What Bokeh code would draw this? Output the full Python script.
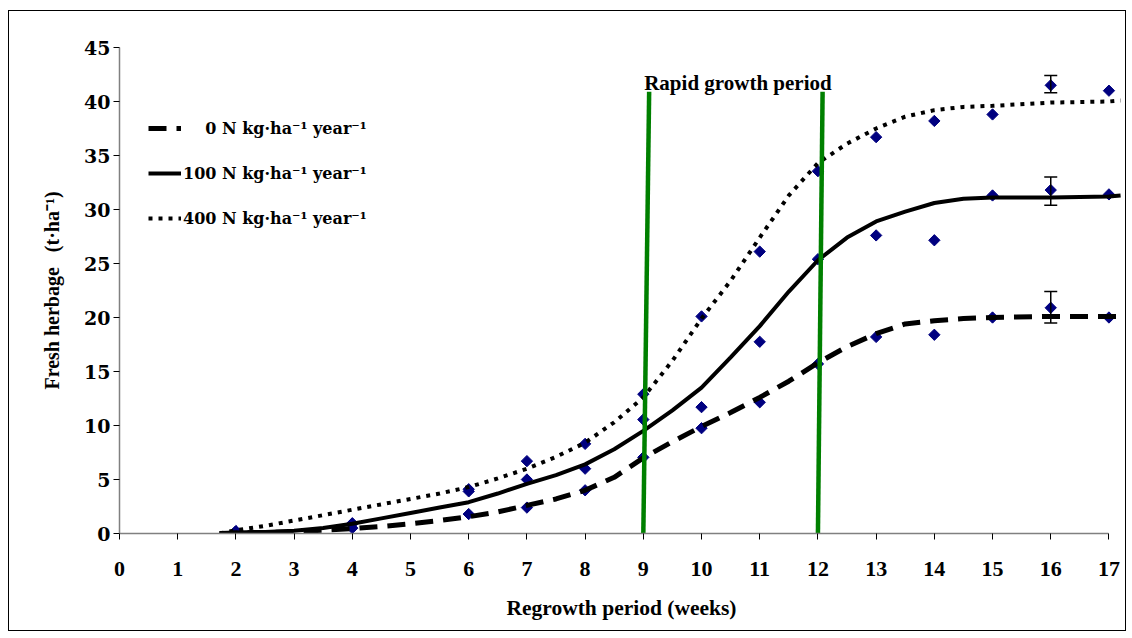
from bokeh.plotting import figure
from bokeh.models import (ColumnDataSource, FixedTicker, Legend, LegendItem, Label,
                          Whisker, TeeHead)
from bokeh.embed import file_html
from bokeh.resources import INLINE
import numpy as np

# ---------------- data ----------------
weeks = [2, 4, 6, 7, 8, 9, 10, 11, 12, 13, 14, 15, 16, 17]
obs_0n = [0.2, 0.5, 1.8, 2.4, 4.0, 7.05, 9.75, 12.15, 15.7, 18.2, 18.4, 20.0, 20.9, 20.0]
obs_100n = [0.2, 0.9, 3.9, 5.0, 6.0, 10.55, 11.7, 17.75, 25.4, 27.6, 27.15, 31.3, 31.8, 31.4]
obs_400n = [0.2, 0.95, 4.1, 6.7, 8.3, 12.9, 20.1, 26.1, 33.55, 36.7, 38.2, 38.8, 41.5, 41.0]

fit_x = [1.72, 2, 2.5, 3, 3.5, 4, 4.5, 5, 5.5, 6, 6.5, 7, 7.5, 8, 8.5, 9, 9.5, 10,
         10.5, 11, 11.5, 12, 12.5, 13, 13.5, 14, 14.5, 15, 16, 17, 17.2]
fit_0n = [0.0, 0.05, 0.1, 0.15, 0.3, 0.45, 0.65, 0.9, 1.2, 1.55, 2.0, 2.6, 3.2, 4.0, 5.2,
          7.0, 8.5, 9.9, 11.2, 12.6, 14.1, 15.8, 17.3, 18.5, 19.4, 19.7, 19.9, 20.0, 20.1,
          20.1, 20.1]
fit_100n = [0.0, 0.1, 0.15, 0.25, 0.5, 0.9, 1.4, 1.9, 2.4, 2.9, 3.7, 4.6, 5.4, 6.4, 7.8,
            9.5, 11.4, 13.5, 16.3, 19.2, 22.4, 25.3, 27.4, 28.9, 29.8, 30.6, 31.0, 31.1,
            31.1, 31.2, 31.3]
fit_400n = [0.0, 0.3, 0.7, 1.2, 1.7, 2.2, 2.7, 3.2, 3.7, 4.3, 5.1, 6.0, 7.1, 8.4, 10.3,
            12.6, 16.0, 19.9, 23.4, 27.4, 31.3, 34.3, 36.1, 37.5, 38.6, 39.2, 39.5, 39.6,
            39.9, 40.0, 40.1]

err_x = [16, 16, 16]
err_upper = [22.4, 33.0, 42.4]
err_lower = [19.5, 30.4, 40.8]

rapid_bottom_x = [9.0, 12.0]
rapid_top_x = [9.1, 12.08]
rapid_bottom_y = [0, 0]
rapid_top_y = [40.9, 40.9]

x_ticks = list(range(0, 18))
y_ticks = list(range(0, 50, 5))

legend_labels = ["\u00a0\u00a0\u00a0\u00a00 N kg\u00b7ha\u207b\u00b9 year\u207b\u00b9",
                 "100 N kg\u00b7ha\u207b\u00b9 year\u207b\u00b9",
                 "400 N kg\u00b7ha\u207b\u00b9 year\u207b\u00b9"]

# ---------------- figure ----------------
p = figure(width=1118, height=621, x_range=(0, 17.25), y_range=(0, 45),
           output_backend="svg", toolbar_location=None,
           min_border_left=110, min_border_right=4, min_border_top=36,
           min_border_bottom=99)
p.margin = (10, 0, 0, 8)
p.styles = {"border": "1px solid #000000"}
p.outline_line_color = None
p.grid.visible = False
p.background_fill_color = "white"
p.border_fill_color = "white"

SERIF = "Liberation Serif"

# axes
p.xaxis.ticker = FixedTicker(ticks=x_ticks)
p.yaxis.ticker = FixedTicker(ticks=y_ticks)
p.xaxis.bounds = (0, 17)
for ax in (p.xaxis[0], p.yaxis[0]):
    ax.axis_line_color = "#808080"
    ax.axis_line_width = 1.5
    ax.major_tick_line_color = "#000000"
    ax.major_tick_line_width = 1
    ax.major_tick_out = 6
    ax.major_tick_in = 0
    ax.minor_tick_line_color = None
    ax.major_label_text_font_style = "bold"
    ax.major_label_text_color = "#000000"
    ax.axis_label_text_font = SERIF
    ax.axis_label_text_font_style = "bold"
    ax.axis_label_text_color = "#000000"

p.xaxis.major_label_text_font = SERIF
p.xaxis.major_label_text_font_size = "22px"
p.xaxis.major_label_standoff = 22
p.xaxis.axis_label = "Regrowth period (weeks)"
p.xaxis.axis_label_text_font_size = "21.5px"
p.xaxis.axis_label_standoff = 17

p.yaxis.major_label_text_font = "DejaVu Serif"
p.yaxis.major_label_text_font_size = "19px"
p.yaxis.major_label_standoff = 3
p.yaxis.axis_label = "Fresh herbage\u00a0\u00a0\u00a0(t\u00b7ha\u207b\u00b9)"
p.yaxis.axis_label_text_font_size = "20px"
p.yaxis.axis_label_standoff = 18

# observed points (diamonds)
for obs in (obs_0n, obs_100n, obs_400n):
    p.scatter(weeks, obs, marker="square", size=8, angle=np.pi / 4,
              fill_color="#000080", line_color="#000080")

# error bars
err_src = ColumnDataSource(dict(x=err_x, upper=err_upper, lower=err_lower))
p.add_layout(Whisker(source=err_src, base="x", upper="upper", lower="lower",
                     line_color="black", line_width=1.5, level="overlay",
                     upper_head=TeeHead(size=13, line_width=1.5, line_color="black"),
                     lower_head=TeeHead(size=13, line_width=1.5, line_color="black")))

# fitted curves
r0 = p.line(fit_x, fit_0n, line_color="black", line_width=5, line_dash="18 10")
r100 = p.line(fit_x, fit_100n, line_color="black", line_width=4)
r400 = p.line(fit_x, fit_400n, line_color="black", line_width=4, line_dash="4 6")

# rapid growth period lines
p.segment(x0=rapid_bottom_x, y0=rapid_bottom_y, x1=rapid_top_x, y1=rapid_top_y,
          line_color="#008000", line_width=4.5)

p.add_layout(Label(x=9.015, y=41.69, text="Rapid growth period", text_font=SERIF,
                   text_font_style="bold", text_font_size="21px",
                   text_baseline="alphabetic", text_align="left", text_color="black"))

legend = Legend(items=[LegendItem(label=legend_labels[0], renderers=[r0]),
                       LegendItem(label=legend_labels[1], renderers=[r100]),
                       LegendItem(label=legend_labels[2], renderers=[r400])],
                location=(29, 305), orientation="vertical",
                glyph_width=33, glyph_height=20, label_height=20, label_standoff=2,
                spacing=25, padding=0, margin=0,
                border_line_color=None, background_fill_alpha=0,
                label_text_font="DejaVu Serif", label_text_font_style="bold",
                label_text_font_size="16px", label_text_color="black")
p.add_layout(legend)

open("out.html", "w").write(file_html(p, INLINE))
